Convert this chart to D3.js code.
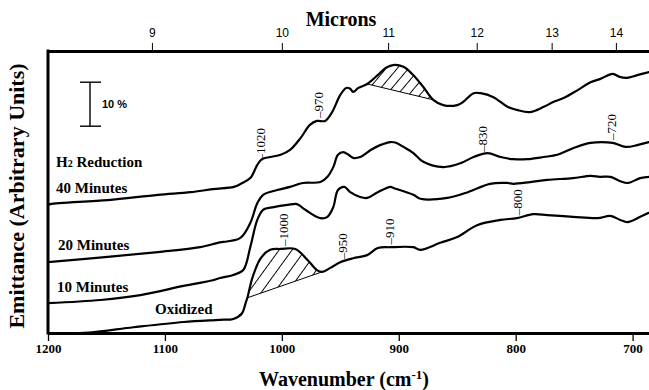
<!DOCTYPE html>
<html>
<head>
<meta charset="utf-8">
<script src="https://cdn.jsdelivr.net/npm/d3@7"></script>
<style>
  body { margin: 0; background: #fff; }
  svg { display: block; }
</style>
</head>
<body>
<svg id="chart" width="649" height="390"></svg>
<script>
// Axis ticks
const wavenumberTicks = [1200, 1100, 1000, 900, 800, 700];
const micronTicks = [9, 10, 11, 12, 13, 14];

// Emittance spectra, [wavenumber (cm-1), emittance (%)]
const min40 = [
  [1200, 29.1], [1198, 29.3], [1149, 30.2], [1106, 31.4], [1078, 32.0], [1059, 32.7],
  [1041, 33.2], [1035, 33.9], [1027, 35.2], [1021, 38.2], [1017, 39.5], [1010, 40.0],
  [1001, 40.5], [993, 41.6], [984, 44.3], [976, 47.3], [970, 48.2], [963, 48.2],
  [957, 50.2], [950, 54.1], [945, 55.7], [941.5, 55.5], [939, 54.8], [934.5, 55.7],
  [927, 56.6], [918, 58.6], [911.5, 60.2], [905, 60.9], [896, 60.5], [887.5, 58.6],
  [879, 55.9], [870.5, 53.0], [862, 51.8], [850, 51.8], [845, 52.5], [836, 54.5],
  [830, 54.5], [819, 53.6], [807, 51.4], [799, 50.7], [788, 50.2], [776, 51.4],
  [768, 52.5], [759, 53.4], [747, 55.2], [736, 57.0], [728, 57.7], [717, 58.9],
  [711, 58.2], [705, 58.0], [696, 58.6], [686, 59.3], [680, 59.6]
];
const min20 = [
  [1200, 16.1], [1149, 17.3], [1106, 18.4], [1070, 19.5], [1053, 20.6], [1047, 20.8],
  [1035.5, 21.6], [1027, 25.0], [1021, 29.5], [1016, 31.4], [1004, 32.5], [993, 33.2],
  [982, 34.1], [967, 34.3], [961, 35.5], [956, 37.7], [952, 40.5], [947.5, 41.1],
  [943, 40.5], [939, 39.8], [933, 40.0], [924, 41.6], [916, 42.7], [907, 43.4],
  [903, 43.3], [896, 42.3], [887.5, 40.9], [879, 38.9], [862, 37.7], [847, 38.6],
  [836, 40.0], [824, 40.9], [813, 40.0], [802, 39.5], [790, 39.5], [776, 40.0],
  [764.5, 40.5], [751, 42.0], [736, 43.2], [717, 43.2], [706, 42.3], [696, 42.7],
  [686, 43.4], [680, 43.7]
];
const min10 = [
  [1200, 6.8], [1155, 7.5], [1121, 8.6], [1084, 10.7], [1059, 12.0], [1053, 12.5],
  [1041.5, 13.2], [1033, 14.3], [1027, 19.5], [1021, 25.7], [1016, 28.0], [1007, 28.6],
  [995, 29.1], [987, 29.3], [982, 28.4], [976, 27.3], [967, 26.1], [961, 26.4],
  [956, 28.6], [952, 32.5], [946.5, 33.2], [941.5, 32.0], [933, 30.9], [927, 30.7],
  [918, 32.0], [907, 33.2], [905, 33.0], [887.5, 31.4], [881.5, 30.5], [858.5, 30.7],
  [841, 32.0], [822, 33.9], [807, 34.1], [802, 33.9], [787.5, 34.3], [773, 34.8],
  [751, 35.2], [736, 35.7], [728, 35.5], [719, 35.5], [710.5, 34.5], [704, 34.1],
  [693.5, 35.2], [686, 35.5], [680, 35.7]
];
const oxidized = [
  [1200, 0.0], [1165, 0.1], [1127, 1.3], [1084, 2.5], [1053, 3.0], [1041.5, 3.2],
  [1034, 4.5], [1031, 6.8], [1029.5, 8.0], [1025, 12.7], [1018, 17.0], [1010, 18.9],
  [1001, 19.1], [988.5, 19.1], [978, 16.6], [970, 14.3], [965.5, 13.9], [958.5, 14.8],
  [950, 16.1], [939, 17.0], [927, 17.7], [918, 19.3], [907, 19.5], [887.5, 19.5],
  [881.5, 18.9], [864.5, 20.5], [850, 21.8], [833, 24.5], [813, 25.7], [799, 26.1],
  [785, 27.0], [773, 26.8], [751, 26.4], [730, 26.1], [719, 26.6], [710.5, 25.7],
  [704.5, 25.2], [693.5, 26.4], [686, 27.3], [680, 27.8]
];

// Band assignments marked on the spectra
const peakWavenumbers = [1020, 970, 830, 720, 1000, 950, 910, 800];
const peakSeries = [min40, min40, min20, min20, oxidized, oxidized, oxidized, oxidized];

// Hatched emission bands: [start, end] wavenumbers of the chord
const hatchTop = [927, 870.5];
const hatchBottom = [1029.5, 965.5];

const scaleBarPercent = 10;

// ---- layout ----
const svg = d3.select("#chart");
const plotLeft = 48, plotRight = 649, plotTop = 51, plotBottom = 333;

const x = d3.scaleLinear()
  .domain([1200, 1200 - (plotRight - plotLeft) / 1.1692])
  .range([plotLeft, plotRight]);
const y = d3.scaleLinear()
  .domain([0, (plotBottom - plotTop) / 4.4])
  .range([plotBottom, plotTop]);

const serif = "'Liberation Serif', 'Times New Roman', serif";
const sans = "'Liberation Sans', Arial, sans-serif";

const defs = svg.append("defs");
defs.append("clipPath").attr("id", "plot-clip")
  .append("rect").attr("x", plotLeft).attr("y", plotTop)
  .attr("width", plotRight - plotLeft).attr("height", plotBottom - plotTop);

function hatchPattern(id, spacing, angle) {
  const p = defs.append("pattern").attr("id", id)
    .attr("patternUnits", "userSpaceOnUse")
    .attr("width", spacing).attr("height", spacing)
    .attr("patternTransform", `rotate(${angle})`);
  p.append("line").attr("x1", spacing / 2).attr("x2", spacing / 2)
    .attr("y1", 0).attr("y2", spacing)
    .attr("stroke", "#000").attr("stroke-width", 1);
}
hatchPattern("hatch-top", 8.6, 40);
hatchPattern("hatch-bottom", 10.5, 36);

const line = d3.line().x(d => x(d[0])).y(d => y(d[1])).curve(d3.curveCatmullRom.alpha(0.5));
const area = d3.area().x(d => x(d[0])).y0(y(0)).y1(d => y(d[1])).curve(d3.curveCatmullRom.alpha(0.5));

function valueAt(series, w) {
  for (let i = 0; i < series.length - 1; i++) {
    const a = series[i], b = series[i + 1];
    if (w <= a[0] && w >= b[0]) {
      const t = (a[0] - w) / (a[0] - b[0]);
      return a[1] + t * (b[1] - a[1]);
    }
  }
  return series[series.length - 1][1];
}

// hatched band between the spectrum and a straight chord
function drawBand(series, range, id, patternId) {
  const p1 = [x(range[0]), y(valueAt(series, range[0]))];
  const p2 = [x(range[1]), y(valueAt(series, range[1]))];
  defs.append("clipPath").attr("id", id)
    .append("polygon")
    .attr("points", [p1, p2, [p2[0], 0], [p1[0], 0]].map(p => p.join(",")).join(" "));
  svg.append("path")
    .attr("d", area(series))
    .attr("fill", `url(#${patternId})`)
    .attr("clip-path", `url(#${id})`);
  svg.append("line")
    .attr("x1", p1[0]).attr("y1", p1[1]).attr("x2", p2[0]).attr("y2", p2[1])
    .attr("stroke", "#000").attr("stroke-width", 1);
}
drawBand(min40, hatchTop, "band-top", "hatch-top");
drawBand(oxidized, hatchBottom, "band-bottom", "hatch-bottom");

// spectra
svg.append("g").attr("clip-path", "url(#plot-clip)")
  .selectAll("path")
  .data([min40, min20, min10, oxidized])
  .join("path")
  .attr("d", line)
  .attr("fill", "none")
  .attr("stroke", "#000")
  .attr("stroke-width", 2.2)
  .attr("stroke-linejoin", "round");

// band labels, rotated, sitting just above the curve
svg.append("g").selectAll("text")
  .data(peakWavenumbers)
  .join("text")
  .attr("transform", (w, i) => `translate(${x(w) + 2},${y(valueAt(peakSeries[i], w)) - 3}) rotate(-90)`)
  .attr("dy", "0.35em")
  .attr("text-anchor", "start")
  .attr("font-family", serif)
  .attr("font-size", 13)
  .text(w => "\u2013" + w);

// bottom axis (wavenumber)
const bottomAxis = svg.append("g")
  .attr("transform", `translate(0,${plotBottom})`)
  .call(d3.axisBottom(x).tickValues(wavenumberTicks).tickFormat(d3.format("d"))
    .tickSize(8).tickSizeOuter(0).tickPadding(3));
bottomAxis.select(".domain").attr("stroke-width", 3);
bottomAxis.selectAll(".tick line").attr("stroke-width", 1.3);
bottomAxis.selectAll(".tick text")
  .attr("font-family", serif).attr("font-weight", "bold").attr("font-size", 13).attr("fill", "#000");

// top axis (microns)
const topAxis = svg.append("g")
  .attr("transform", `translate(0,${plotTop})`)
  .call(d3.axisTop(x)
    .tickValues(micronTicks.map(m => 10000 / m))
    .tickFormat((d, i) => micronTicks[i])
    .tickSize(8).tickSizeOuter(0).tickPadding(6));
topAxis.select(".domain").attr("stroke-width", 3);
topAxis.selectAll(".tick line").attr("stroke-width", 1);
topAxis.selectAll(".tick text")
  .attr("font-family", sans).attr("font-size", 12).attr("fill", "#000");

// left frame edge
svg.append("line")
  .attr("x1", plotLeft).attr("x2", plotLeft).attr("y1", plotTop - 1.5).attr("y2", plotBottom + 1.5)
  .attr("stroke", "#000").attr("stroke-width", 3);

// titles
svg.append("text")
  .attr("x", 341).attr("y", 26).attr("text-anchor", "middle")
  .attr("font-family", serif).attr("font-weight", "bold").attr("font-size", 20)
  .text("Microns");

const xTitle = svg.append("text")
  .attr("x", 344).attr("y", 386).attr("text-anchor", "middle")
  .attr("font-family", serif).attr("font-weight", "bold").attr("font-size", 20);
xTitle.append("tspan").text("Wavenumber (cm");
xTitle.append("tspan").attr("font-size", 13).attr("dy", -7).text("-1");
xTitle.append("tspan").attr("dy", 7).text(")");

svg.append("text")
  .attr("transform", "translate(24,196) rotate(-90)")
  .attr("text-anchor", "middle")
  .attr("font-family", serif).attr("font-weight", "bold").attr("font-size", 22)
  .text("Emittance (Arbitrary Units)");

// series labels
const labelStyle = sel => sel.attr("font-family", serif).attr("font-weight", "bold").attr("font-size", 15);
const h2 = svg.append("text").attr("x", 56).attr("y", 167).call(labelStyle);
h2.append("tspan").text("H");
h2.append("tspan").attr("font-size", 10).text("2");
h2.append("tspan").text(" Reduction");
svg.append("text").attr("x", 56).attr("y", 193).call(labelStyle).text("40 Minutes");
svg.append("text").attr("x", 58).attr("y", 250).call(labelStyle).text("20 Minutes");
svg.append("text").attr("x", 57).attr("y", 292).call(labelStyle).text("10 Minutes");
svg.append("text").attr("x", 155).attr("y", 314).call(labelStyle).text("Oxidized");

// 10 % scale bar
const barBase = 47;
const bar = svg.append("g").attr("stroke", "#000").attr("stroke-width", 1.4);
bar.append("line").attr("x1", 90).attr("x2", 90).attr("y1", y(barBase)).attr("y2", y(barBase + scaleBarPercent));
bar.append("line").attr("x1", 80).attr("x2", 101).attr("y1", y(barBase)).attr("y2", y(barBase));
bar.append("line").attr("x1", 80).attr("x2", 101)
  .attr("y1", y(barBase + scaleBarPercent)).attr("y2", y(barBase + scaleBarPercent));
svg.append("text")
  .attr("x", 102).attr("y", y(barBase + scaleBarPercent / 2)).attr("dy", "0.35em")
  .attr("font-family", sans).attr("font-size", 11).attr("font-weight", "bold")
  .text(scaleBarPercent + " %");
</script>
</body>
</html>
